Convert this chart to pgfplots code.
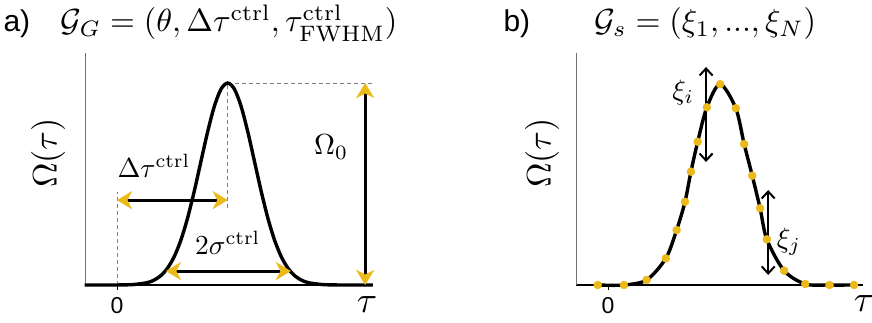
\documentclass[border=0pt]{standalone}
\usepackage{fontspec}
\setsansfont{Liberation Sans}
\usepackage{pgfplots}
\pgfplotsset{compat=1.18}
\usetikzlibrary{arrows.meta}

\definecolor{pulsegold}{RGB}{235,185,25}

\pgfplotsset{
  pulsepanel/.style={
    scale only axis, height=232pt,
    ymin=0, ymax=1.1485,
    axis x line=bottom, axis y line=left,
    x axis line style={-, black, line width=1.8pt},
    y axis line style={-, black!55, line width=1pt},
    xtick={0}, xticklabels={\textsf{0}}, ytick=\empty,
    tick align=outside, major tick length=5pt,
    xtick style={black, line width=0.8pt},
    xticklabel style={font=\fontsize{23}{25}\selectfont, inner sep=0pt, yshift=-7pt},
    clip=false,
  },
}
\tikzset{
  guide/.style={black!50, line width=0.9pt, dash pattern=on 4pt off 3pt},
  goldtip/.tip={Stealth[pulsegold, length=15pt, width=18pt, inset=4.5pt]},
  barbtip/.tip={Straight Barb[length=7pt, width=13pt]},
  goldarrow/.style={line width=3pt, arrows={goldtip-goldtip}},
  blackarrow/.style={line width=2pt, arrows={barbtip-barbtip}},
  % math labels are set at 10pt and enlarged
  mathlbl/.style={inner sep=0pt, scale=#1},
}

\begin{document}
\begin{tikzpicture}[x=1pt, y=1pt]
\useasboundingbox (0,0) rectangle (872,323);

% ---------- panel a: Gaussian pulse parametrisation ----------
\begin{axis}[pulsepanel, at={(85pt,38pt)}, anchor=south west, width=288pt,
             xmin=-1.185, xmax=9.48]
  \draw[guide] (axis cs:0,0) -- (axis cs:0,0.46);
  \draw[guide] (axis cs:4.1,0.38) -- (axis cs:4.1,1);
  \draw[guide] (axis cs:4.1,1) -- (axis cs:9.48,1);
  \addplot[black, line width=3.4pt, smooth] coordinates {
    (-1.2,0) (-0.4,0) (0.1,0.0003) (0.6,0.0022) (1.1,0.0111) (1.35,0.0228)
    (1.6,0.0439) (1.85,0.0796) (2.1,0.1353) (2.35,0.2163) (2.6,0.3247)
    (2.85,0.4578) (3.1,0.6065) (3.35,0.7548) (3.6,0.8825) (3.85,0.9692)
    (4.1,1) (4.35,0.9692) (4.6,0.8825) (4.85,0.7548) (5.1,0.6065)
    (5.35,0.4578) (5.6,0.3247) (5.85,0.2163) (6.1,0.1353) (6.35,0.0796)
    (6.6,0.0439) (6.85,0.0228) (7.1,0.0111) (7.6,0.0022) (8.1,0.0003)
    (8.6,0) (9.48,0)
  };
  \draw[goldarrow] (axis cs:0,0.42) -- (axis cs:4.1,0.42);
  \draw[goldarrow] (axis cs:1.81,0.069) -- (axis cs:6.44,0.069);
  \draw[goldarrow] (axis cs:9.19,0) -- (axis cs:9.19,1);
  \node[mathlbl=2.75, anchor=base west] at (axis cs:0,0.53) {$\Delta\tau^{\mathrm{ctrl}}$};
  \node[mathlbl=2.75, anchor=base] at (axis cs:4.1,0.153) {$2\sigma^{\mathrm{ctrl}}$};
  \node[mathlbl=2.9, anchor=base] at (axis cs:7.93,0.644) {$\Omega_0$};
\end{axis}

% ---------- panel b: sampled pulse parametrisation ----------
\begin{axis}[pulsepanel, at={(576pt,38pt)}, anchor=south west, width=287pt,
             xmin=-1.185, xmax=9.44]
  \addplot[black, line width=3.4pt, smooth] coordinates {
    (-0.38,0) (0.59,0) (1.43,0.025) (2.14,0.132) (2.54,0.272) (2.85,0.412)
    (3.07,0.561) (3.32,0.709) (3.66,0.880) (4.15,0.994) (4.73,0.875)
    (5.04,0.698) (5.34,0.541) (5.63,0.380) (5.88,0.226) (6.52,0.071)
    (7.30,0.005) (8.20,0) (9.11,0)
  };
  \addplot[only marks, mark=*, mark size=4pt, pulsegold,
           mark options={draw=none, fill=pulsegold}] coordinates {
    (-0.38,0) (0.59,0) (1.43,0.025) (2.14,0.132) (2.54,0.272) (2.85,0.412)
    (3.07,0.561) (3.32,0.709) (3.66,0.880) (4.15,0.994) (4.73,0.875)
    (5.04,0.698) (5.34,0.541) (5.63,0.380) (5.88,0.226) (6.52,0.071)
    (7.30,0.005) (8.20,0) (9.11,0)
  };
  \draw[blackarrow] (axis cs:3.63,0.609) -- (axis cs:3.63,1.079);
  \draw[blackarrow] (axis cs:5.93,0.05) -- (axis cs:5.93,0.47);
  \node[mathlbl=2.8] at (axis cs:2.78,0.955) {$\xi_i$};
  \node[mathlbl=2.8] at (axis cs:6.70,0.213) {$\xi_j$};
\end{axis}

% ---------- titles and axis labels ----------
\node[anchor=base west, font=\sffamily\fontsize{30}{32}\selectfont] at (0,291) {a)};
\node[mathlbl=3.2, anchor=base] at (229,291)
  {$\mathcal{G}_G = (\theta, \Delta\tau^{\mathrm{ctrl}}, \tau^{\mathrm{ctrl}}_{\mathrm{FWHM}})$};
\node[anchor=base west, font=\sffamily\fontsize{30}{32}\selectfont] at (500,291) {b)};
\node[mathlbl=3.2, anchor=base] at (705,291)
  {$\mathcal{G}_s = (\xi_1, ..., \xi_N)$};

\node[mathlbl=3.4, rotate=90] at (48,170) {$\Omega(\tau)$};
\node[mathlbl=3.4, rotate=90] at (542,170) {$\Omega(\tau)$};
\node[mathlbl=3.7, anchor=base] at (367,10) {$\tau$};
\node[mathlbl=3.7, anchor=base] at (864,11) {$\tau$};
\end{tikzpicture}
\end{document}
